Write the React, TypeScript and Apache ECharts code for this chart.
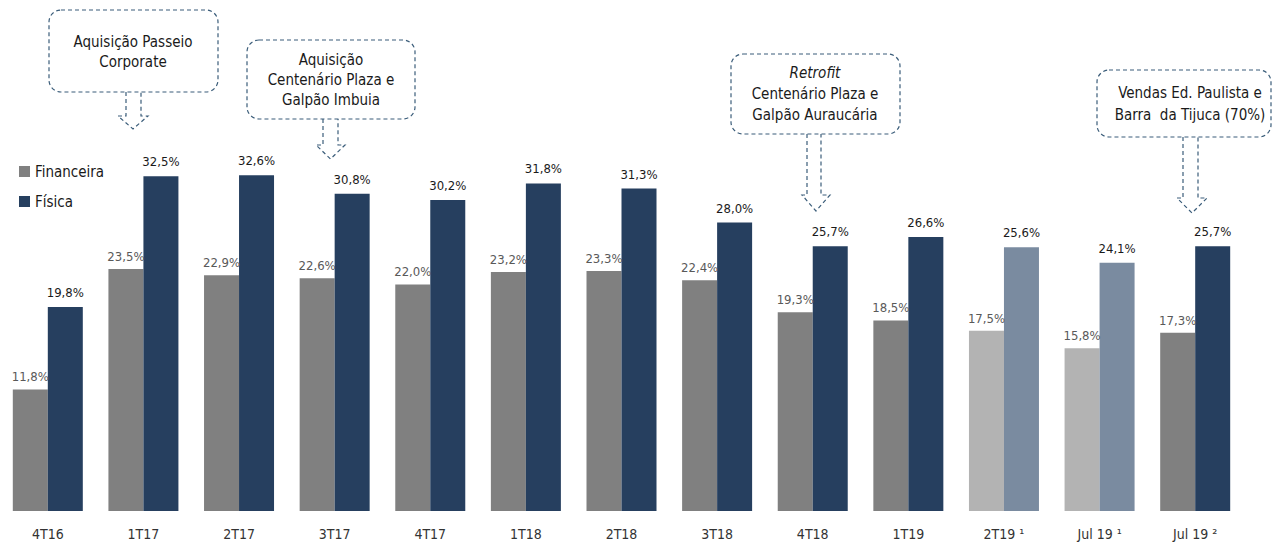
import React, { useEffect, useRef } from "react";
import * as echarts from "echarts";

const categories = ["4T16", "1T17", "2T17", "3T17", "4T17", "1T18", "2T18", "3T18", "4T18", "1T19", "2T19 ¹", "Jul 19 ¹", "Jul 19 ²"];
const financeira = [11.8, 23.5, 22.9, 22.6, 22.0, 23.2, 23.3, 22.4, 19.3, 18.5, 17.5, 15.8, 17.3];
const fisica = [19.8, 32.5, 32.6, 30.8, 30.2, 31.8, 31.3, 28.0, 25.7, 26.6, 25.6, 24.1, 25.7];
const lightIdx = [10, 11];

const FONT = '"Liberation Sans Narrow", "Arial Narrow", "DejaVu Sans Condensed", sans-serif';
const DASH = "#3b5d7a";

const fmt = (v: number) => v.toFixed(1).replace(".", ",") + "%";

function box(x: number, y: number, w: number, h: number) {
  return {
    type: "rect",
    shape: { x, y, width: w, height: h, r: 12 },
    style: { fill: "none", stroke: DASH, lineWidth: 1.2, lineDash: [4, 3] },
    silent: true,
  };
}

function arrow(x1: number, x2: number, top: number, headY: number, hl: number, hr: number, tipY: number) {
  const tx = (hl + hr) / 2;
  return {
    type: "polyline",
    shape: { points: [[x1, top], [x1, headY], [hl, headY], [tx, tipY], [hr, headY], [x2, headY], [x2, top]] },
    style: { fill: "none", stroke: DASH, lineWidth: 1.2, lineDash: [4, 3] },
    silent: true,
  };
}

function txt(text: string, x: number, y: number, italic = false) {
  return {
    type: "text",
    style: {
      text, x, y,
      fill: "#1a1a1a",
      font: `${italic ? "italic " : ""}15px ${FONT}`,
      align: "center", verticalAlign: "middle",
      textAlign: "center", textVerticalAlign: "middle",
    },
    silent: true,
  };
}

export default function App() {
  const ref = useRef<HTMLDivElement>(null);
  useEffect(() => {
    if (!ref.current) return;
    const chart = echarts.init(ref.current, undefined, { renderer: "svg" });
    chart.setOption({
      animation: false,
      textStyle: { fontFamily: FONT },
      grid: { left: 0, right: 34, top: 99, bottom: 33, containLabel: false },
      legend: {
        orient: "vertical", left: 14, top: 159, itemWidth: 11, itemHeight: 11, itemGap: 15,
        icon: "rect",
        textStyle: { fontSize: 15, color: "#1a1a1a", fontFamily: FONT },
        data: ["Financeira", "Física"],
      },
      xAxis: {
        type: "category", data: categories,
        axisLine: { show: false }, axisTick: { show: false },
        axisLabel: { fontSize: 14, color: "#333333", margin: 16, fontFamily: FONT },
      },
      yAxis: { type: "value", min: 0, max: 40, show: false, splitLine: { show: false } },
      series: [
        {
          name: "Financeira", type: "bar", barWidth: 35, barGap: "0%",
          itemStyle: { color: "#808080" },
          data: financeira.map((v, i) => lightIdx.includes(i) ? { value: v, itemStyle: { color: "#b3b3b3" } } : v),
          label: { show: true, position: "top", distance: 6, fontSize: 13, color: "#595959", fontFamily: FONT, formatter: (p: any) => fmt(p.value) },
        },
        {
          name: "Física", type: "bar", barWidth: 35, barGap: "0%",
          itemStyle: { color: "#263f5f" },
          data: fisica.map((v, i) => lightIdx.includes(i) ? { value: v, itemStyle: { color: "#7a8ba0" } } : v),
          label: { show: true, position: "top", distance: 8, fontSize: 13, color: "#1a1a1a", fontFamily: FONT, formatter: (p: any) => fmt(p.value) },
        },
      ],
      graphic: [
        box(49, 10, 169, 82),
        txt("Aquisição Passeio", 133, 42),
        txt("Corporate", 133, 62),
        arrow(126, 141, 92, 116, 118, 148, 129),

        box(247, 40, 168, 79),
        txt("Aquisição", 331, 60),
        txt("Centenário Plaza e", 331, 80),
        txt("Galpão Imbuia", 331, 100),
        arrow(323, 338, 119, 145, 316, 345, 159),

        box(731, 54, 169, 80),
        txt("Retrofit", 815, 73, true),
        txt("Centenário Plaza e", 815, 94),
        txt("Galpão Auraucária", 815, 115),
        arrow(807, 821, 134, 195, 802, 830, 211),

        box(1097, 70, 174, 67),
        txt("Vendas Ed. Paulista e", 1190, 93),
        txt("Barra  da Tijuca (70%)", 1190, 115),
        arrow(1183, 1198, 137, 198, 1177, 1207, 213),
      ],
    });
    return () => chart.dispose();
  }, []);
  return <div ref={ref} style={{ position: "absolute", left: 0, top: 0, width: 1277, height: 544, background: "#fff" }} />;
}
